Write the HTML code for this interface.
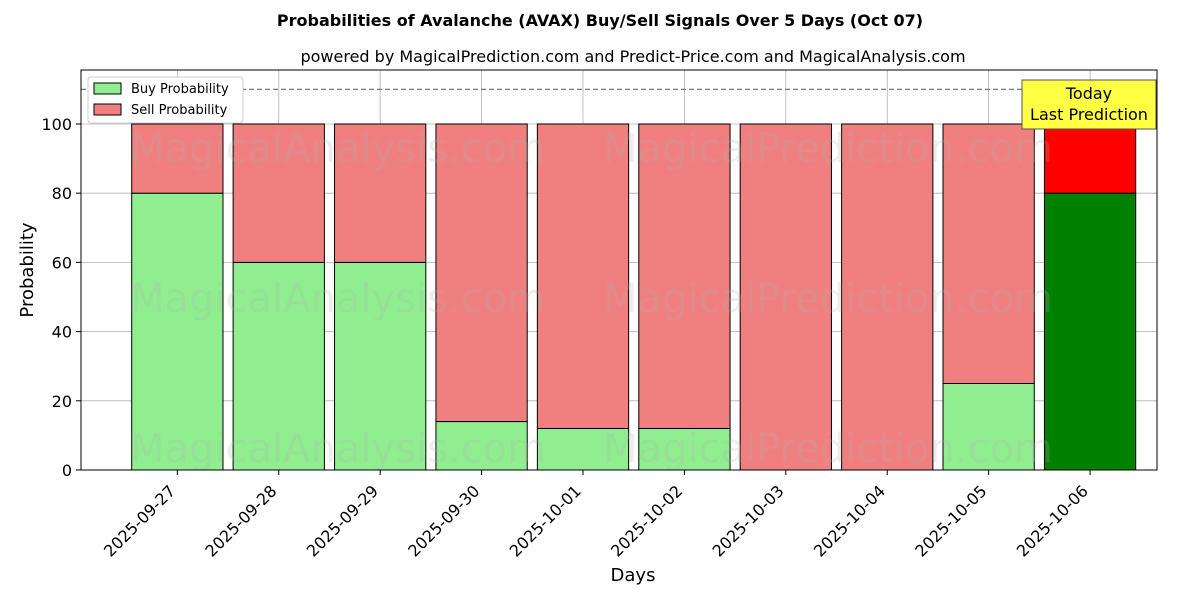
<!DOCTYPE html>
<html><head><meta charset="utf-8"><style>
body{margin:0;background:#fff;font-family:"Liberation Sans","DejaVu Sans",sans-serif}
svg text{font-family:"DejaVu Sans","Liberation Sans",sans-serif}
</style></head><body>
<svg id="chart" width="1200" height="600" viewBox="0 0 1200 600" xmlns="http://www.w3.org/2000/svg">
<text x="600" y="26" text-anchor="middle" font-size="16" font-weight="bold">Probabilities of Avalanche (AVAX) Buy/Sell Signals Over 5 Days (Oct 07)</text>
<text x="633" y="62" text-anchor="middle" font-size="16">powered by MagicalPrediction.com and Predict-Price.com and MagicalAnalysis.com</text>
<g id="grid"></g>
<g id="bars"></g>
<g id="wm" font-size="40" fill="#b0b0b0" opacity="0.22">
<text x="130" y="162">MagicalAnalysis.com</text><text x="603" y="162">MagicalPrediction.com</text>
<text x="130" y="312">MagicalAnalysis.com</text><text x="603" y="312">MagicalPrediction.com</text>
<text x="130" y="462">MagicalAnalysis.com</text><text x="603" y="462">MagicalPrediction.com</text>
</g>
<line x1="81" x2="1157" y1="89.4" y2="89.4" stroke="#777" stroke-dasharray="5,3" stroke-width="1.2"/>
<rect x="81" y="70" width="1076" height="400" fill="none" stroke="#000" stroke-width="1"/>
<g id="axes"></g>
<text x="33" y="270" font-size="18" text-anchor="middle" transform="rotate(-90 33 270)">Probability</text>
<text x="633" y="581" font-size="18" text-anchor="middle">Days</text>
<g>
<rect x="88" y="77" width="155" height="46" fill="#fff" stroke="#ccc" rx="3"/>
<rect x="94" y="83" width="27" height="11" fill="#90ee90" stroke="#000"/>
<text x="131" y="93" font-size="13">Buy Probability</text>
<rect x="94" y="104" width="27" height="11" fill="#f08080" stroke="#000"/>
<text x="131" y="114" font-size="13">Sell Probability</text>
</g>
<g>
<rect x="1022" y="80" width="134" height="49" fill="#ffff44" stroke="#555"/>
<text x="1089" y="99" font-size="16" text-anchor="middle">Today</text>
<text x="1089" y="120" font-size="16" text-anchor="middle">Last Prediction</text>
</g>
</svg>
<script>
const categories=["2025-09-27","2025-09-28","2025-09-29","2025-09-30","2025-10-01","2025-10-02","2025-10-03","2025-10-04","2025-10-05","2025-10-06"];
const buyValues=[80,60,60,14,12,12,0,0,25,80];
const sellValues=[20,40,40,86,88,88,100,100,75,20];
const yTicks=[0,20,40,60,80,100];
const NS="http://www.w3.org/2000/svg";
const X0=81,X1=1157,Y0=470,Y1=70,xmin=-0.95,xmax=9.66,ymin=0,ymax=115.6;
const xs=i=>X0+(i-xmin)/(xmax-xmin)*(X1-X0);
const ys=v=>Y0-(v-ymin)/(ymax-ymin)*(Y0-Y1);
function mk(tag,attrs,parent,txt){const e=document.createElementNS(NS,tag);for(const k in attrs)e.setAttribute(k,attrs[k]);if(txt!==undefined)e.textContent=txt;parent.appendChild(e);return e;}
const grid=document.getElementById('grid'),bars=document.getElementById('bars'),axes=document.getElementById('axes');
yTicks.forEach(t=>{const y=ys(t);
 const g=mk('line',{x1:X0,x2:X1,y1:y,y2:y,stroke:'#b0b0b0','stroke-width':0.8},grid);
 
 
 mk('line',{x1:X0-5,x2:X0,y1:y,y2:y,stroke:'#000'},axes);
 const l=mk('text',{x:X0-9,y:y+6,'font-size':16,'text-anchor':'end'},axes,t);
 
 
});
const last=categories.length-1;
categories.forEach((c,i)=>{const x=xs(i),w=0.9*(xs(1)-xs(0));
 const g=mk('line',{x1:x,x2:x,y1:Y1,y2:Y0,stroke:'#b0b0b0','stroke-width':0.8},grid);
 
 
 const b=mk('rect',{x:x-w/2,y:ys(buyValues[i]),width:w,height:ys(0)-ys(buyValues[i]),fill:i===last?'#008000':'#90ee90',stroke:'#000','stroke-width':1},bars);
 
 
 const s=mk('rect',{x:x-w/2,y:ys(buyValues[i]+sellValues[i]),width:w,height:ys(buyValues[i])-ys(buyValues[i]+sellValues[i]),fill:i===last?'#ff0000':'#f08080',stroke:'#000','stroke-width':1},bars);
 
 
 mk('line',{x1:x,x2:x,y1:Y0,y2:Y0+5,stroke:'#000'},axes);
 const lx=x-1,ly=Y0+22;
 const l=mk('text',{x:lx,y:ly,'font-size':16,'text-anchor':'end',transform:`rotate(-45 ${lx} ${ly})`},axes,c);
 
 
});
</script>
</body></html>
